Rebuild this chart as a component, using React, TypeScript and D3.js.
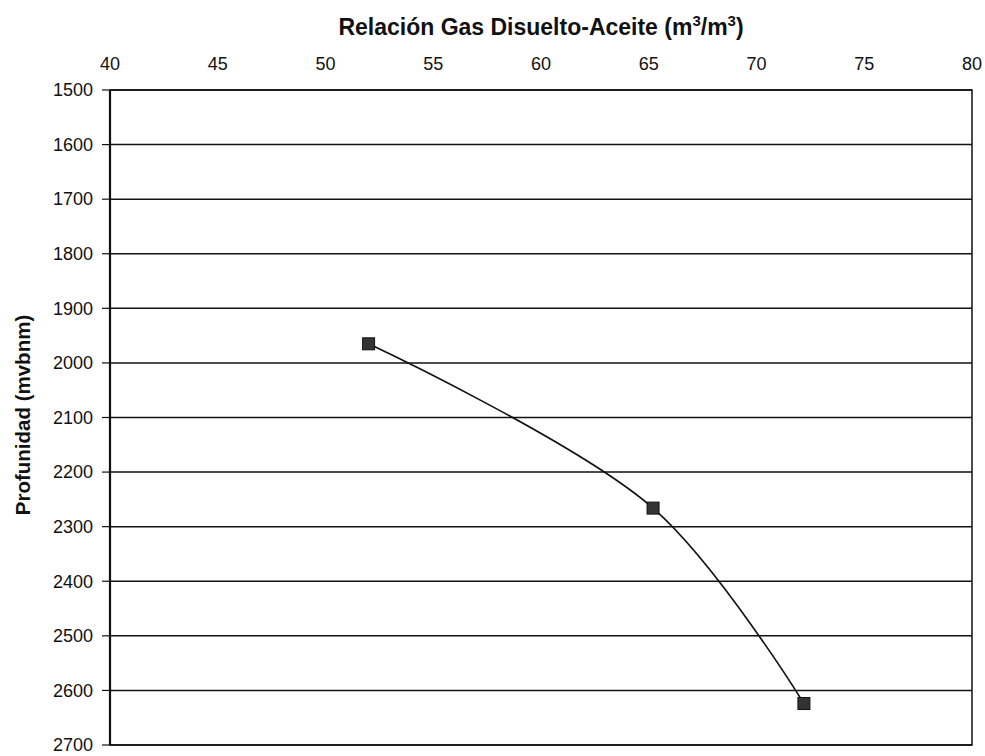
import React from "react";
import * as d3 from "d3";

const xTicks = [40, 45, 50, 55, 60, 65, 70, 75, 80];
const yTicks = [1500, 1600, 1700, 1800, 1900, 2000, 2100, 2200, 2300, 2400, 2500, 2600, 2700];
const rgaValues = [52.0, 65.2, 72.2];
const depthValues = [1965, 2266, 2624];
const xTitle = "Relación Gas Disuelto-Aceite (m";
const yTitle = "Profunidad (mvbnm)";

const W = 985;
const H = 756;
const left = 110;
const right = 972;
const top = 90;
const bottom = 745;

export default function App() {
  const x = d3.scaleLinear().domain([40, 80]).range([left, right]);
  const y = d3.scaleLinear().domain([1500, 2700]).range([top, bottom]);
  const pts: [number, number][] = rgaValues.map((v, i) => [x(v), y(depthValues[i])]);
  const line = d3.line().curve(d3.curveCatmullRom.alpha(0.5))(pts) || "";
  const font = "Liberation Sans, Arial, Helvetica, sans-serif";
  return (
    <svg width={W} height={H} style={{ position: "absolute", left: 0, top: 0, background: "#fff" }} fontFamily={font}>
      <rect x={0} y={0} width={W} height={H} fill="#fff" />
      <text x={541} y={35} textAnchor="middle" fontSize={23} fontWeight="bold" fill="#111">
        {xTitle}
        <tspan fontSize={15} dy={-9}>3</tspan>
        <tspan dy={9}>/m</tspan>
        <tspan fontSize={15} dy={-9}>3</tspan>
        <tspan dy={9}>)</tspan>
      </text>
      <text transform={`translate(30,415) rotate(-90)`} textAnchor="middle" fontSize={20.5} fontWeight="bold" fill="#111">
        {yTitle}
      </text>
      {xTicks.map((t) => (
        <text key={"xt" + t} x={x(t)} y={70} textAnchor="middle" fontSize={18} fill="#111">
          {t}
        </text>
      ))}
      {yTicks.map((t) => (
        <g key={"yt" + t}>
          <line x1={left} x2={right} y1={y(t)} y2={y(t)} stroke="#111" strokeWidth={1.5} />
          <line x1={left - 8} x2={left} y1={y(t)} y2={y(t)} stroke="#111" strokeWidth={1.2} />
          <text x={93} y={y(t)} dy="0.35em" textAnchor="end" fontSize={18} fill="#111">
            {t}
          </text>
        </g>
      ))}
      <rect x={left} y={top} width={right - left} height={bottom - top} fill="none" stroke="#111" strokeWidth={1.5} />
      <line x1={left} x2={left} y1={top} y2={bottom} stroke="#111" strokeWidth={2.2} />
      <path d={line} fill="none" stroke="#111" strokeWidth={1.6} />
      {pts.map((p, i) => (
        <rect key={"m" + i} x={p[0] - 6} y={p[1] - 6} width={12} height={12} fill="#333" stroke="#111" strokeWidth={1} />
      ))}
    </svg>
  );
}
